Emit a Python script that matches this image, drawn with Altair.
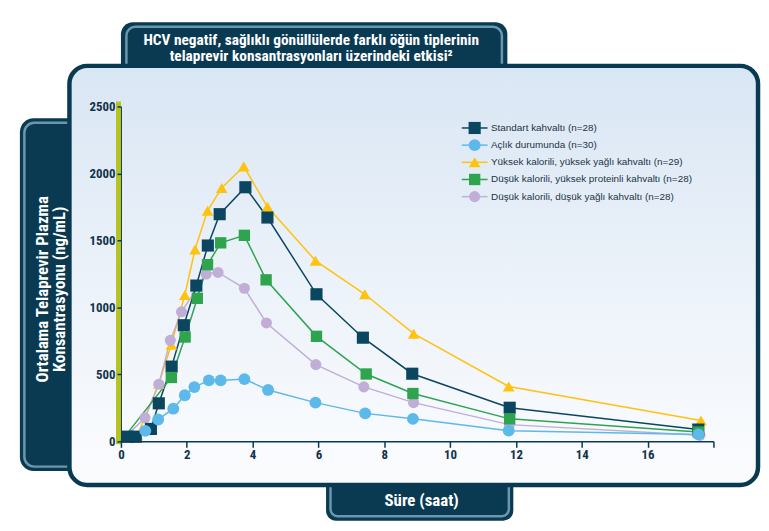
import altair as alt
import pandas as pd

# ---------------- data ----------------
series_names = [
    "Standart kahvaltı (n=28)",
    "Açlık durumunda (n=30)",
    "Yüksek kalorili, yüksek yağlı kahvaltı (n=29)",
    "Düşük kalorili, yüksek proteinli kahvaltı (n=28)",
    "Düşük kalorili, düşük yağlı kahvaltı (n=28)",
]
series_colors = ["#0b4660", "#5db9ea", "#ffc20e", "#2ea44f", "#c1aed7"]
series_shapes = ["square", "circle", "triangle-up", "square", "circle"]
series_sizes = [150, 125, 150, 150, 125]

std_t = [0, 0.2, 0.45, 0.91, 1.15, 1.54, 1.91, 2.29, 2.64, 3.0, 3.78, 4.45, 5.94, 7.35, 8.85, 11.81, 17.54]
std_c = [0, 35, 35, 93, 284, 558, 867, 1163, 1462, 1696, 1897, 1671, 1098, 774, 505, 251, 88]

fast_t = [0, 0.74, 1.13, 1.59, 1.94, 2.23, 2.67, 3.03, 3.75, 4.47, 5.91, 7.42, 8.87, 11.78, 17.54]
fast_c = [0, 78, 163, 244, 344, 405, 455, 455, 465, 384, 289, 209, 168, 80, 52]

hifat_t = [0, 0.5, 1.15, 1.53, 1.94, 2.25, 2.63, 3.06, 3.73, 4.45, 5.91, 7.41, 8.89, 11.78, 17.62]
hifat_c = [0, 45, 430, 721, 1093, 1432, 1721, 1892, 2053, 1751, 1349, 1098, 804, 410, 156]

hiprot_t = [0, 1.53, 1.95, 2.32, 2.63, 3.03, 3.75, 4.41, 5.94, 7.45, 8.87, 11.81, 17.54]
hiprot_c = [0, 477, 779, 1068, 1319, 1482, 1538, 1206, 784, 503, 357, 168, 70]

lofat_t = [0, 0.73, 1.15, 1.5, 1.84, 2.59, 2.95, 3.75, 4.42, 5.92, 7.38, 8.89, 11.8, 17.59]
lofat_c = [0, 176, 427, 754, 967, 1249, 1261, 1143, 884, 573, 407, 289, 125, 45]

x_ticks = [0, 2, 4, 6, 8, 10, 12, 14, 16, 18]
y_ticks = [0, 500, 1000, 1500, 2000, 2500]

title_lines = [
    "HCV negatif, sağlıklı gönüllülerde farklı öğün tiplerinin",
    "telaprevir konsantrasyonları üzerindeki etkisi²",
]
y_title = ["Ortalama Telaprevir Plazma", "Konsantrasyonu (ng/mL)"]
x_title = "Süre (saat)"

# drawing order (back to front) as in the reference
groups = [
    (series_names[2], hifat_t, hifat_c),
    (series_names[4], lofat_t, lofat_c),
    (series_names[0], std_t, std_c),
    (series_names[3], hiprot_t, hiprot_c),
    (series_names[1], fast_t, fast_c),
]
rows = []
for name, ts, cs in groups:
    for t, c in zip(ts, cs):
        rows.append({"series": name, "t": t, "c": c})
df = pd.DataFrame(rows)
legend_df = pd.DataFrame({"series": series_names, "row": list(range(len(series_names)))})

# ---------------- styling ----------------
FONT_B = "Liberation Sans Narrow, Roboto Condensed, DejaVu Sans Condensed, Arial Narrow, sans-serif"
FONT_R = "Liberation Sans, Arial, Helvetica, sans-serif"
NAVY = "#0a3a52"
LIGHT = "#6b97ad"
LABEL = "#12324a"
OLIVE = "#b7c41f"

cscale = alt.Scale(domain=series_names, range=series_colors)
sscale = alt.Scale(domain=series_names, range=series_shapes)
zscale = alt.Scale(domain=series_names, range=series_sizes)

one = alt.Data(values=[{}])


def rect(x, x2, y, y2, **kw):
    return alt.Chart(one).mark_rect(**kw).encode(
        x=alt.value(x), x2=alt.value(x2), y=alt.value(y), y2=alt.value(y2)
    )


gradient = {
    "gradient": "linear",
    "x1": 0, "y1": 0, "x2": 0, "y2": 1,
    "stops": [
        {"offset": 0, "color": "#d9e6f4"},
        {"offset": 0.55, "color": "#edf3fa"},
        {"offset": 1, "color": "#fbfcfe"},
    ],
}

decor = [
    rect(-102, -45, 12, 368, fill=NAVY, cornerRadiusTopLeft=14, cornerRadiusBottomLeft=14),
    rect(-97.5, -40, 16.5, 363.5, fill="transparent", stroke=LIGHT, strokeWidth=2.5,
         cornerRadiusTopLeft=10, cornerRadiusBottomLeft=10),
    rect(0, 390, -85, -36, fill=NAVY, cornerRadiusTopLeft=12, cornerRadiusTopRight=12),
    rect(5.5, 384.5, -80.5, -30, fill="transparent", stroke=LIGHT, strokeWidth=2.5,
         cornerRadiusTopLeft=9, cornerRadiusTopRight=9),
    rect(207, 396, 376, 418, fill=NAVY, cornerRadiusBottomLeft=10, cornerRadiusBottomRight=10),
    rect(211.5, 391.5, 370, 413.5, fill="transparent", stroke=LIGHT, strokeWidth=2.5,
         cornerRadiusBottomLeft=7, cornerRadiusBottomRight=7),
    rect(-52, 643, -41, 382, fill=gradient, stroke=NAVY, strokeWidth=4.5, cornerRadius=18),
    rect(-5, 0, -5, 341, fill=OLIVE),
]

x_axis = alt.Axis(
    values=x_ticks,
    labelExpr="datum.value == 18 ? '' : datum.label",
    title=x_title, titleX=303, titleY=65, titleAlign="center", titleBaseline="alphabetic",
    titleFont=FONT_B, titleFontSize=17, titleFontWeight="bold", titleColor="white",
    labelFont=FONT_B, labelFontSize=13, labelFontWeight="bold", labelColor=LABEL,
    labelPadding=1, labelFlush=False,
    domainColor=NAVY, domainWidth=1.5, tickColor=NAVY, tickWidth=1.5, tickSize=6,
    grid=False, zindex=1,
)
y_axis = alt.Axis(
    values=y_ticks, format="d",
    title=y_title, titleAngle=270, titleX=-74, titleY=184, titleAlign="center",
    titleBaseline="alphabetic", titleLineHeight=17,
    titleFont=FONT_B, titleFontSize=17, titleFontWeight="bold", titleColor="white",
    labelFont=FONT_B, labelFontSize=13, labelFontWeight="bold", labelColor=LABEL,
    labelPadding=2,
    domainColor=NAVY, domainWidth=1, tickColor=NAVY, tickWidth=1.5, tickSize=4,
    grid=False, zindex=1,
)

X = alt.X("t:Q", scale=alt.Scale(domain=[0, 18], nice=False), axis=x_axis)
Y = alt.Y("c:Q", scale=alt.Scale(domain=[0, 2500], nice=False), axis=y_axis)

lines = alt.Chart(df).mark_line(strokeWidth=1.5).encode(
    x=X, y=Y, color=alt.Color("series:N", scale=cscale, legend=None)
)
points = alt.Chart(df).transform_filter("datum.t > 0").mark_point(
    filled=True, opacity=1, strokeWidth=0
).encode(
    x=X, y=Y,
    color=alt.Color("series:N", scale=cscale, legend=None),
    shape=alt.Shape("series:N", scale=sscale, legend=None),
    size=alt.Size("series:N", scale=zscale, legend=None),
)
data_layer = alt.layer(lines, points)

# legend built from the same series list
LY = alt.Y("row:Q", scale=alt.Scale(domain=[0, 4], range=[21.7, 91.0], nice=False, zero=False), axis=None)
leg_rule = alt.Chart(legend_df).mark_rule(strokeWidth=1.5).encode(
    x=alt.value(344), x2=alt.value(370), y=LY,
    color=alt.Color("series:N", scale=cscale, legend=None),
)
leg_pts = alt.Chart(legend_df).mark_point(filled=True, opacity=1, strokeWidth=0).encode(
    x=alt.value(357), y=LY,
    color=alt.Color("series:N", scale=cscale, legend=None),
    shape=alt.Shape("series:N", scale=sscale, legend=None),
    size=alt.Size("series:N", scale=zscale, legend=None),
)
leg_text = alt.Chart(legend_df).mark_text(
    align="left", baseline="middle", font=FONT_R, fontSize=10, color="#1d3446"
).encode(x=alt.value(373.5), y=LY, text="series:N")
legend_layer = alt.layer(leg_rule, leg_pts, leg_text)

title = alt.Chart(one).mark_text(
    align="center", baseline="alphabetic", font=FONT_B, fontSize=15.5, fontWeight="bold",
    color="white", lineHeight=17,
).encode(x=alt.value(192), y=alt.value(-62.5), text=alt.value(title_lines))

chart = alt.layer(*decor, data_layer, legend_layer, title).resolve_scale(
    y="independent"
).properties(
    width=598, height=338,
    padding={"left": 114, "top": 97, "right": 48, "bottom": 80},
    autosize=alt.AutoSizeParams(type="none"),
    background="white",
).configure_view(strokeWidth=0)

chart.save("out.html", embed_options={"renderer": "svg", "actions": False})
